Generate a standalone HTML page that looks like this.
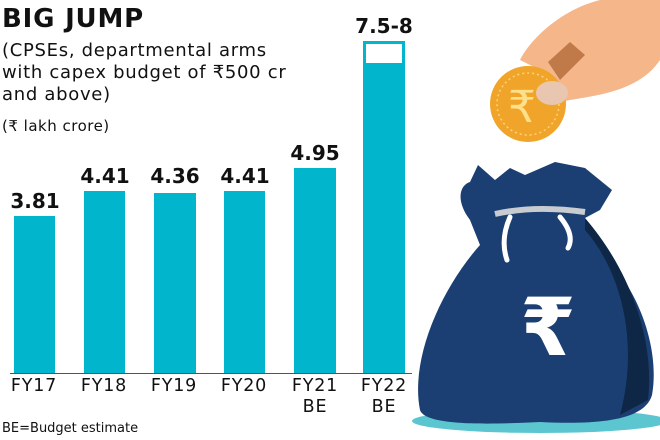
<!DOCTYPE html>
<html><head><style>
body{margin:0;width:660px;height:440px;background:#fff;position:relative;overflow:hidden;font-family:"DejaVu Sans","Liberation Sans",sans-serif;color:#111}
.t{position:absolute;white-space:nowrap}
.bar{position:absolute;background:#00b5cc;bottom:66px}
.v{position:absolute;font-weight:bold;font-size:20px;text-align:center;width:70px}
.l{position:absolute;font-size:17.5px;letter-spacing:0.8px;text-align:center;width:74px;line-height:21px;top:376px}
</style></head><body>
<div class="t" style="left:2px;top:4px;font-size:26px;font-weight:bold;letter-spacing:0.8px">BIG JUMP</div>
<div class="t" style="left:2px;top:40px;font-size:18px;letter-spacing:0.7px;line-height:22px">(CPSEs, departmental arms<br>with capex budget of ₹500 cr<br>and above)</div>
<div class="t" style="left:2px;top:117px;font-size:15px;letter-spacing:0.5px">(₹ lakh crore)</div>

<div class="bar" style="left:14px;width:41px;top:216px"></div>
<div class="bar" style="left:84px;width:41px;top:191px"></div>
<div class="bar" style="left:154px;width:42px;top:193px"></div>
<div class="bar" style="left:224px;width:41px;top:191px"></div>
<div class="bar" style="left:294px;width:42px;top:168px"></div>
<div class="bar" style="left:363px;width:42px;top:41px"></div>
<div style="position:absolute;left:366px;top:44px;width:36px;height:19px;background:#fff"></div>
<div style="position:absolute;left:10px;top:373px;width:402px;height:1px;background:#555"></div>

<div class="v" style="left:0px;top:189px">3.81</div>
<div class="v" style="left:70px;top:164px">4.41</div>
<div class="v" style="left:140px;top:164px">4.36</div>
<div class="v" style="left:210px;top:164px">4.41</div>
<div class="v" style="left:280px;top:141px">4.95</div>
<div class="v" style="left:349px;top:14px">7.5-8</div>

<div class="l" style="left:-3px">FY17</div>
<div class="l" style="left:67px">FY18</div>
<div class="l" style="left:137px">FY19</div>
<div class="l" style="left:207px">FY20</div>
<div class="l" style="left:278px">FY21<br>BE</div>
<div class="l" style="left:347px">FY22<br>BE</div>
<div class="t" style="left:2px;top:421px;font-size:13px">BE=Budget estimate</div>

<svg style="position:absolute;left:0;top:0" width="660" height="440">
<ellipse cx="540" cy="421" rx="128" ry="12" fill="#5cc6d0"/>
<path d="M420 410 C410 360 440 290 480 245 L470 220 C455 200 460 185 470 182 L478 165 L495 180 L510 168 L525 175 L555 162 L585 168 L612 190 L600 210 L585 218 L600 250 C640 290 660 350 652 395 C645 420 600 425 540 422 C480 425 425 425 420 410Z" fill="#1c3f73"/>
<path d="M585 218 C630 270 655 340 648 400 L620 415 C640 340 620 270 585 230Z" fill="#0f2747"/>
<path d="M495 214 Q535 205 585 212" stroke="#c8ccd0" stroke-width="6" fill="none"/>
<path d="M510 217 Q500 240 507 260 M560 217 Q575 235 568 248" stroke="#fff" stroke-width="5" fill="none" stroke-linecap="round"/>
<text x="548" y="355" font-size="80" font-weight="bold" fill="#fff" text-anchor="middle" font-family="DejaVu Sans,sans-serif">₹</text>
<path d="M520 60 C530 40 560 10 600 0 L660 0 L660 60 C640 90 600 95 570 100 L545 105 C535 95 530 80 540 70Z" fill="#f5b68a"/>
<path d="M548 62 L570 42 L585 55 L560 80Z" fill="#c07a4a"/>
<circle cx="528" cy="104" r="38" fill="#f0a52a"/>
<circle cx="528" cy="104" r="31" fill="none" stroke="#ffd27a" stroke-width="1.5" stroke-dasharray="2 3"/>
<text x="522" y="122" font-size="44" fill="#ffe08a" text-anchor="middle" font-family="DejaVu Sans,sans-serif">₹</text>
<ellipse cx="552" cy="93" rx="16" ry="12" fill="#e8c6b0"/>
</svg>
</body></html>
